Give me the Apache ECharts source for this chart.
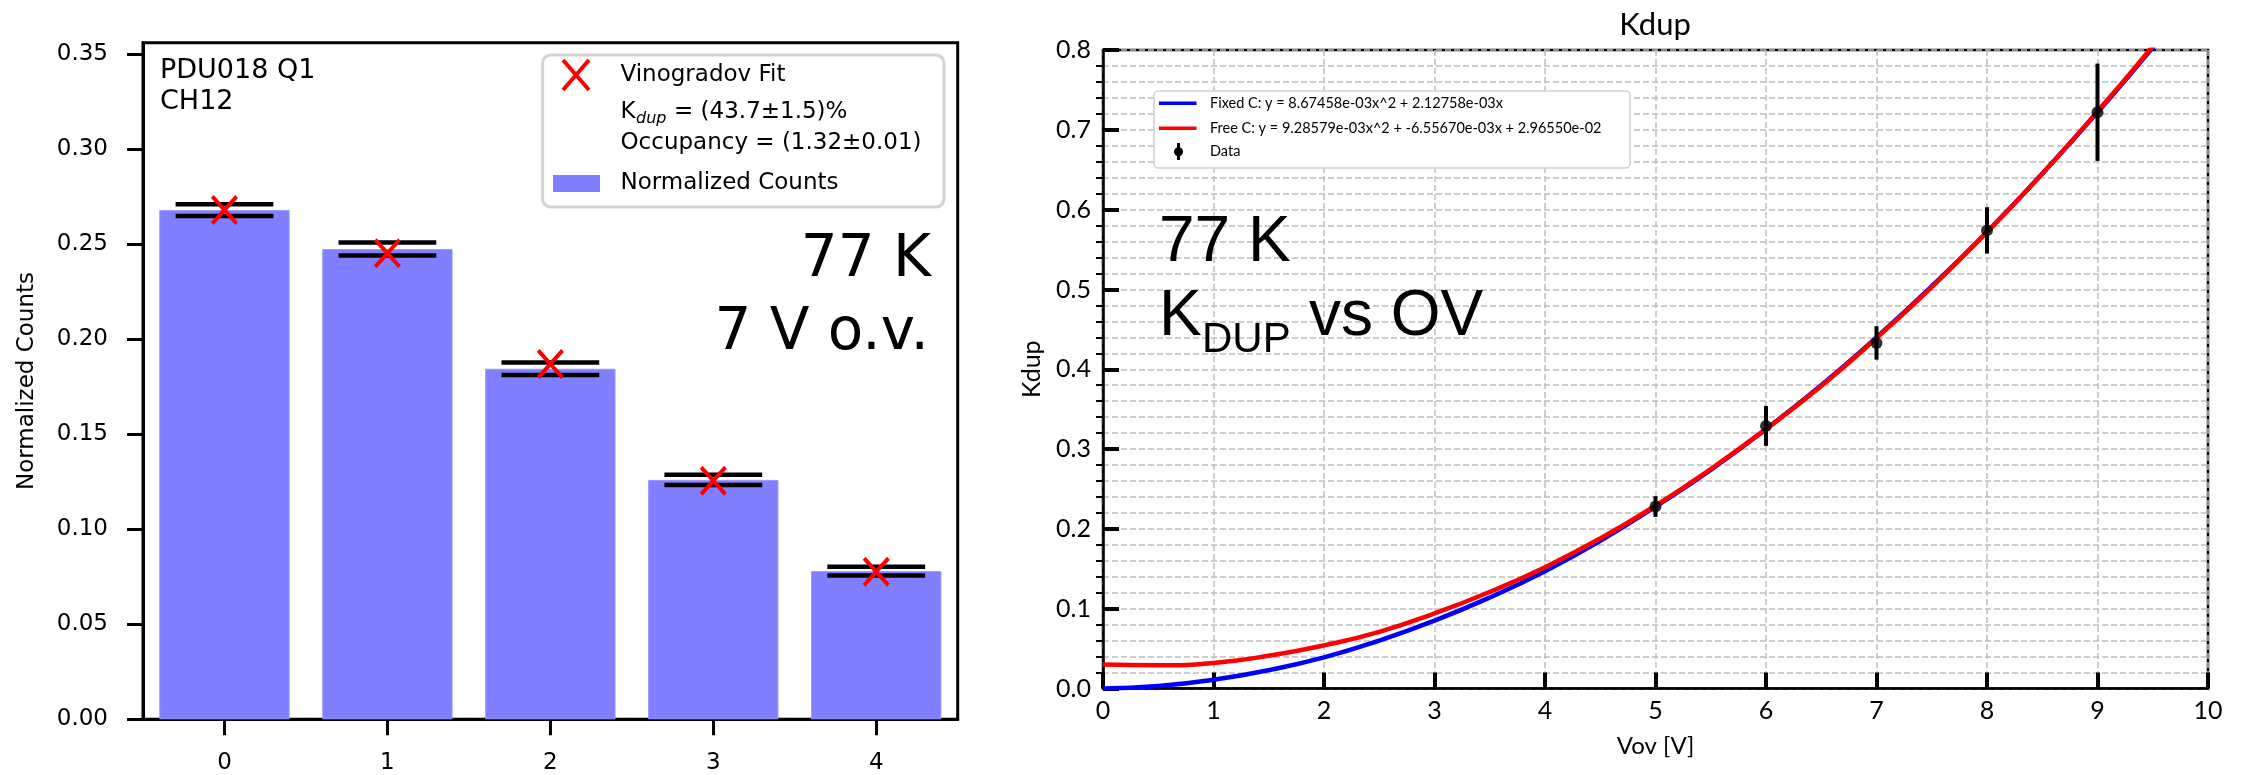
<!DOCTYPE html>
<html>
<head>
<meta charset="utf-8">
<script src="https://cdn.jsdelivr.net/npm/echarts@6/dist/echarts.min.js"></script>
<style>html,body{margin:0;padding:0;background:#fff}#c{width:2243px;height:775px}</style>
</head>
<body>
<div id="c"></div>
<script>
// ---------- left panel data ----------
const categories = ['0', '1', '2', '3', '4'];
const normCounts = [0.268, 0.2475, 0.1845, 0.126, 0.078];
const countErr = [0.0031, 0.0034, 0.0033, 0.0027, 0.0023];
const vinogradovFit = [0.268, 0.2453, 0.187, 0.1256, 0.0777];
const leftYTicks = [0, 0.05, 0.10, 0.15, 0.20, 0.25, 0.30, 0.35];

// ---------- right panel data ----------
const curveX = [0, 0.5, 1, 1.5, 2, 2.5, 3, 3.5, 4, 4.5, 5, 5.5, 6, 6.5, 7, 7.5, 8, 8.5, 9, 9.5, 10];
const fixedC = [0.000, 0.003, 0.011, 0.023, 0.039, 0.060, 0.085, 0.114, 0.147, 0.185, 0.228, 0.274, 0.325, 0.380, 0.440, 0.504, 0.572, 0.645, 0.722, 0.803, 0.889];
const freeC = [0.030, 0.029, 0.032, 0.041, 0.054, 0.071, 0.094, 0.121, 0.152, 0.188, 0.229, 0.275, 0.325, 0.379, 0.439, 0.503, 0.572, 0.645, 0.723, 0.805, 0.893];
const vovPoints = [5, 6, 7, 8, 9];
const kdupPoints = [0.228, 0.329, 0.433, 0.574, 0.722];
const kdupErr = [0.013, 0.025, 0.021, 0.029, 0.061];
const rightXTicks = [0, 1, 2, 3, 4, 5, 6, 7, 8, 9, 10];
const rightYTicks = [0, 0.1, 0.2, 0.3, 0.4, 0.5, 0.6, 0.7, 0.8];

const LF = 'DejaVu Sans';
const RF = 'Lato';
const AF = 'Liberation Sans';
const barColor = '#7f7fff';
const XPATH = 'path://M0,10 L10,0 L50,40 L90,0 L100,10 L60,50 L100,90 L90,100 L50,60 L10,100 L0,90 L40,50 Z';
const gridDash = { color: '#bdbdbd', width: 1.5, type: [6, 3] };

const chart = echarts.init(document.getElementById('c'), null, { renderer: 'canvas' });

function txt(text, x, y, size, family, extra) {
  return Object.assign({
    type: 'text', x: x, y: y, z: 100,
    style: Object.assign({ text: text, fill: '#000', font: size + 'px "' + family + '"', align: 'left', verticalAlign: 'middle' }, extra || {})
  });
}

const option = {
  animation: false,
  backgroundColor: '#fff',
  title: [{
    text: 'Kdup', left: 1655, top: 9, textAlign: 'center', padding: 0,
    textStyle: { fontFamily: RF, fontSize: 31, fontWeight: 'normal', color: '#000' }
  }],
  grid: [
    { left: 143, top: 42.7, width: 814.7, height: 676.6, show: true, borderColor: '#000', borderWidth: 3, backgroundColor: 'transparent' },
    { left: 1103, top: 50, width: 1105, height: 638.5, show: true, borderColor: '#000', borderWidth: 2.5, backgroundColor: 'transparent' }
  ],
  xAxis: [
    {
      type: 'category', gridIndex: 0, data: categories,
      axisLine: { lineStyle: { color: '#000', width: 3 } },
      axisTick: { show: true, alignWithLabel: true, length: 16, lineStyle: { color: '#000', width: 3 } },
      axisLabel: { margin: 32, fontFamily: LF, fontSize: 23, color: '#000' },
      splitLine: { show: false }
    },
    {
      type: 'value', gridIndex: 1, min: 0, max: 10, interval: 1,
      name: 'Vov [V]', nameLocation: 'middle', nameGap: 46,
      nameTextStyle: { fontFamily: RF, fontSize: 24, color: '#000' },
      axisLine: { lineStyle: { color: '#000', width: 2.5 } },
      axisTick: { show: true, inside: true, length: 16, lineStyle: { color: '#000', width: 4 } },
      axisLabel: { margin: 10, fontFamily: RF, fontSize: 25, color: '#000', customValues: rightXTicks, formatter: v => String(v) },
      splitLine: { show: true, lineStyle: gridDash }
    }
  ],
  yAxis: [
    {
      type: 'value', gridIndex: 0, min: 0, max: 0.3561,
      name: 'Normalized Counts', nameLocation: 'middle', nameGap: 104,
      nameTextStyle: { fontFamily: LF, fontSize: 23, color: '#000' },
      axisLine: { show: true, lineStyle: { color: '#000', width: 3 } },
      axisTick: { show: true, length: 16, lineStyle: { color: '#000', width: 3 }, customValues: leftYTicks },
      axisLabel: { margin: 35, fontFamily: LF, fontSize: 23, color: '#000', customValues: leftYTicks, formatter: v => v.toFixed(2) },
      splitLine: { show: false }
    },
    {
      type: 'value', gridIndex: 1, min: 0, max: 0.8, interval: 0.1,
      name: 'Kdup', nameLocation: 'middle', nameGap: 59,
      nameTextStyle: { fontFamily: RF, fontSize: 25, color: '#000' },
      axisLine: { show: true, lineStyle: { color: '#000', width: 2.5 } },
      axisTick: { show: true, inside: true, length: 16, lineStyle: { color: '#000', width: 4 } },
      axisLabel: { margin: 12, fontFamily: RF, fontSize: 25, color: '#000', customValues: rightYTicks, formatter: v => v.toFixed(1) },
      splitLine: { show: true, lineStyle: gridDash },
      minorTick: { show: false },
      minorSplitLine: { show: true, lineStyle: gridDash }
    },
    {
      type: 'value', gridIndex: 1, min: 0, max: 0.8, interval: 0.1, position: 'left',
      axisLine: { show: false },
      axisTick: { show: false },
      axisLabel: { show: false },
      splitLine: { show: false },
      minorTick: { show: true, splitNumber: 5, length: 7, lineStyle: { color: '#000', width: 2 } },
      minorSplitLine: { show: false }
    }
  ],
  series: [
    {
      name: 'Normalized Counts', type: 'bar', xAxisIndex: 0, yAxisIndex: 0,
      data: normCounts, barWidth: '80%', z: 2,
      itemStyle: { color: barColor, borderColor: '#9a9aff', borderWidth: 1 }
    },
    {
      name: 'count errors', type: 'custom', xAxisIndex: 0, yAxisIndex: 0, z: 3,
      data: categories.map((c, i) => [i, normCounts[i], countErr[i]]),
      encode: { x: 0, y: 1 },
      renderItem: function (params, api) {
        const i = api.value(0), v = api.value(1), e = api.value(2);
        const top = api.coord([i, v + e]);
        const bot = api.coord([i, v - e]);
        const half = api.size([1, 0])[0] * 0.3;
        const st = { stroke: '#000', lineWidth: 4.5 };
        return {
          type: 'group', children: [
            { type: 'line', shape: { x1: top[0] - half, y1: top[1], x2: top[0] + half, y2: top[1] }, style: st },
            { type: 'line', shape: { x1: bot[0] - half, y1: bot[1], x2: bot[0] + half, y2: bot[1] }, style: st }
          ]
        };
      }
    },
    {
      name: 'Vinogradov Fit', type: 'scatter', xAxisIndex: 0, yAxisIndex: 0, z: 4,
      data: vinogradovFit, symbol: XPATH, symbolSize: [27, 30],
      itemStyle: { color: '#ff0000', opacity: 1 }
    },
    {
      name: 'Fixed C', type: 'line', xAxisIndex: 1, yAxisIndex: 1, z: 3,
      data: curveX.map((x, i) => [x, fixedC[i]]), showSymbol: false, symbol: 'none', clip: true, smooth: true,
      lineStyle: { color: '#0000ff', width: 4.5 }
    },
    {
      name: 'Free C', type: 'line', xAxisIndex: 1, yAxisIndex: 1, z: 4,
      data: curveX.map((x, i) => [x, freeC[i]]), showSymbol: false, symbol: 'none', clip: true, smooth: true,
      lineStyle: { color: '#ff0000', width: 4.5 }
    },
    {
      name: 'Data errors', type: 'custom', xAxisIndex: 1, yAxisIndex: 1, z: 5,
      data: vovPoints.map((x, i) => [x, kdupPoints[i], kdupErr[i]]),
      encode: { x: 0, y: 1 },
      renderItem: function (params, api) {
        const x = api.value(0), v = api.value(1), e = api.value(2);
        const top = api.coord([x, v + e]);
        const bot = api.coord([x, v - e]);
        return { type: 'line', shape: { x1: top[0], y1: top[1], x2: bot[0], y2: bot[1] }, style: { stroke: '#000', lineWidth: 4 } };
      }
    },
    {
      name: 'Data', type: 'scatter', xAxisIndex: 1, yAxisIndex: 1, z: 6,
      data: vovPoints.map((x, i) => [x, kdupPoints[i]]), symbol: 'circle', symbolSize: 12,
      itemStyle: { color: '#000' }
    }
  ],
  graphic: [
    // left annotations
    txt('PDU018 Q1', 160, 71, 27, LF),
    txt('CH12', 160, 102, 27, LF),
    txt('77 K', 931, 261, 58, LF, { align: 'right' }),
    txt('7 V o.v.', 929, 334, 58, LF, { align: 'right' }),
    // left legend
    { type: 'rect', z: 90, shape: { x: 542.6, y: 55, width: 401.4, height: 152, r: 8 }, style: { fill: '#fff', stroke: '#d3d3d3', lineWidth: 3 } },
    { type: 'line', z: 100, shape: { x1: 563, y1: 60, x2: 589, y2: 90 }, style: { stroke: '#ff0000', lineWidth: 4 } },
    { type: 'line', z: 100, shape: { x1: 589, y1: 60, x2: 563, y2: 90 }, style: { stroke: '#ff0000', lineWidth: 4 } },
    txt('Vinogradov Fit', 620.5, 75, 23, LF),
    txt('K', 620.5, 112, 23, LF),
    txt('dup', 636, 119, 16, LF, { font: 'italic 16px "DejaVu Sans"' }),
    txt('= (43.7±1.5)%', 674, 112, 23, LF),
    txt('Occupancy = (1.32±0.01)', 620.5, 143, 23, LF),
    { type: 'rect', z: 100, shape: { x: 553, y: 175, width: 47, height: 17 }, style: { fill: barColor } },
    txt('Normalized Counts', 620.5, 183, 23, LF),
    // right annotations
    txt('77 K', 1159, 243.5, 64, AF),
    txt('K', 1159, 317, 64, AF),
    txt('DUP', 1202, 340.3, 42, AF),
    txt('vs OV', 1309, 317, 64, AF),
    // right legend
    { type: 'rect', z: 90, shape: { x: 1154, y: 91, width: 476, height: 77, r: 4 }, style: { fill: '#fff', stroke: '#d0d0d0', lineWidth: 1.5 } },
    { type: 'line', z: 100, shape: { x1: 1159, y1: 103.3, x2: 1196.5, y2: 103.3 }, style: { stroke: '#0000ff', lineWidth: 3.5 } },
    txt('Fixed C: y = 8.67458e-03x^2 + 2.12758e-03x', 1210, 103.3, 14.5, RF),
    { type: 'line', z: 100, shape: { x1: 1159, y1: 128.3, x2: 1196.5, y2: 128.3 }, style: { stroke: '#ff0000', lineWidth: 3.5 } },
    txt('Free C: y = 9.28579e-03x^2 + -6.55670e-03x + 2.96550e-02', 1210, 128.3, 14.5, RF),
    { type: 'line', z: 100, shape: { x1: 1178.5, y1: 143, x2: 1178.5, y2: 160 }, style: { stroke: '#000', lineWidth: 3 } },
    { type: 'circle', z: 100, shape: { cx: 1178.5, cy: 151.7, r: 4.5 }, style: { fill: '#000' } },
    txt('Data', 1210, 151.7, 14.5, RF)
  ]
};
chart.setOption(option);
</script>
</body>
</html>
